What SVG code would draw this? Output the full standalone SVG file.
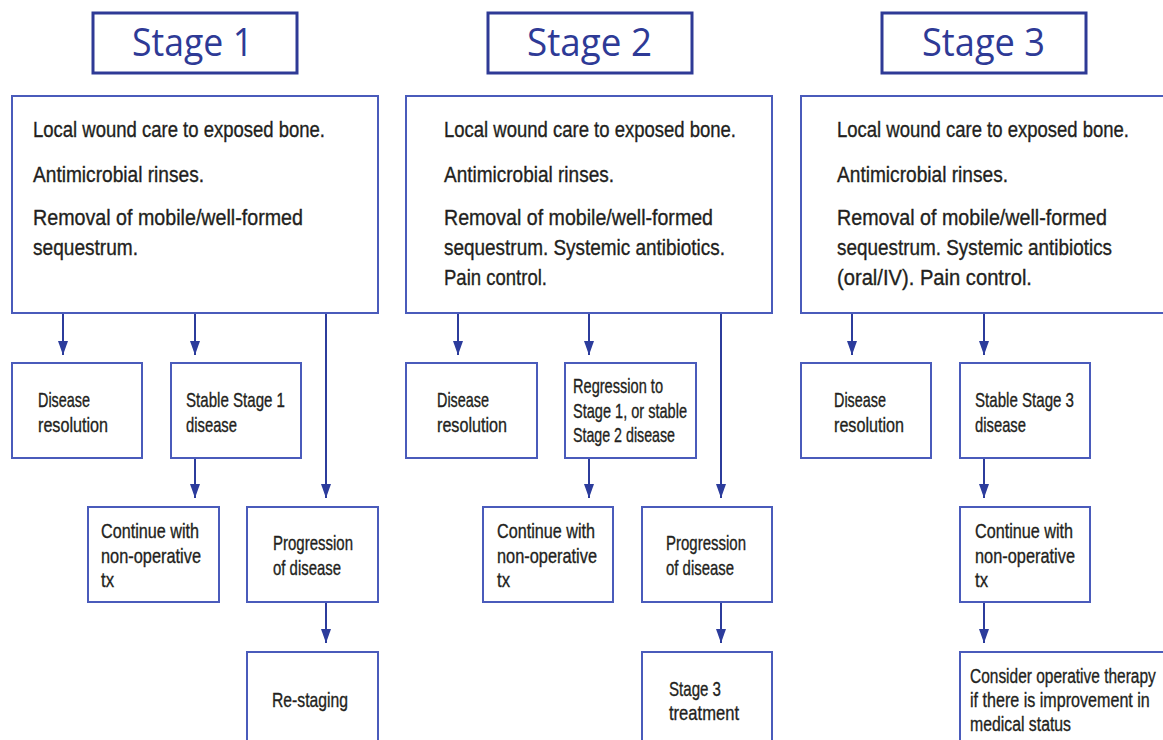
<svg xmlns="http://www.w3.org/2000/svg" width="1163" height="740" viewBox="0 0 1163 740">
<defs>
<marker id="ah" markerUnits="userSpaceOnUse" markerWidth="16" markerHeight="12" viewBox="0 0 16 12" refX="15" refY="6" orient="auto">
<path d="M1,1 L15,6 L1,11 Z" fill="#2c3c9c"/>
</marker>
<style>
.title{fill:#fff;stroke:#2e3a96;stroke-width:3}
.ttl{font-family:"Open Sans","Liberation Sans",sans-serif;font-size:39px;fill:#2e3a96}
.box{fill:#fff;stroke:#4a5bbb;stroke-width:2}
.t{font-family:"Liberation Sans",Arial,sans-serif;font-size:22px;fill:#231f20;stroke:#231f20;stroke-width:0.35}
.s{font-family:"Liberation Sans",Arial,sans-serif;font-size:21px;fill:#231f20;stroke:#231f20;stroke-width:0.35}
.c{stroke:#2c3c9c;stroke-width:2;fill:none}
</style>
</defs>
<rect width="1163" height="740" fill="#fff"/>

<g id="connectors">
<line class="c" x1="63" y1="313" x2="63" y2="355" marker-end="url(#ah)"/>
<line class="c" x1="195" y1="313" x2="195" y2="355" marker-end="url(#ah)"/>
<line class="c" x1="326" y1="313" x2="326" y2="498" marker-end="url(#ah)"/>
<line class="c" x1="195" y1="458" x2="195" y2="498" marker-end="url(#ah)"/>
<line class="c" x1="326" y1="602" x2="326" y2="643" marker-end="url(#ah)"/>

<line class="c" x1="458" y1="313" x2="458" y2="355" marker-end="url(#ah)"/>
<line class="c" x1="589" y1="313" x2="589" y2="355" marker-end="url(#ah)"/>
<line class="c" x1="721" y1="313" x2="721" y2="498" marker-end="url(#ah)"/>
<line class="c" x1="589" y1="458" x2="589" y2="498" marker-end="url(#ah)"/>
<line class="c" x1="721" y1="602" x2="721" y2="643" marker-end="url(#ah)"/>

<line class="c" x1="852" y1="313" x2="852" y2="355" marker-end="url(#ah)"/>
<line class="c" x1="984" y1="313" x2="984" y2="355" marker-end="url(#ah)"/>
<line class="c" x1="984" y1="458" x2="984" y2="498" marker-end="url(#ah)"/>
<line class="c" x1="984" y1="602" x2="984" y2="643" marker-end="url(#ah)"/>
</g>

<g id="stage1-title">
<rect class="title" x="93" y="13" width="204" height="60"/>
<text class="ttl" x="132" y="56" textLength="121" lengthAdjust="spacingAndGlyphs">Stage 1</text>
</g>
<g id="stage2-title">
<rect class="title" x="488" y="13" width="204" height="60"/>
<text class="ttl" x="527" y="56" textLength="125" lengthAdjust="spacingAndGlyphs">Stage 2</text>
</g>
<g id="stage3-title">
<rect class="title" x="882" y="13" width="204" height="60"/>
<text class="ttl" x="922" y="56" textLength="123" lengthAdjust="spacingAndGlyphs">Stage 3</text>
</g>

<g id="stage1-main">
<rect class="box" x="12" y="96" width="366" height="217"/>
<text class="t" x="33" y="137" textLength="292" lengthAdjust="spacingAndGlyphs">Local wound care to exposed bone.</text>
<text class="t" x="33" y="182" textLength="171" lengthAdjust="spacingAndGlyphs">Antimicrobial rinses.</text>
<text class="t" x="33" y="225" textLength="270" lengthAdjust="spacingAndGlyphs">Removal of mobile/well-formed</text>
<text class="t" x="33" y="255" textLength="105" lengthAdjust="spacingAndGlyphs">sequestrum.</text>
</g>
<g id="stage2-main">
<rect class="box" x="406" y="96" width="366" height="217"/>
<text class="t" x="444" y="137" textLength="292" lengthAdjust="spacingAndGlyphs">Local wound care to exposed bone.</text>
<text class="t" x="444" y="182" textLength="170" lengthAdjust="spacingAndGlyphs">Antimicrobial rinses.</text>
<text class="t" x="444" y="225" textLength="269" lengthAdjust="spacingAndGlyphs">Removal of mobile/well-formed</text>
<text class="t" x="444" y="255" textLength="281" lengthAdjust="spacingAndGlyphs">sequestrum. Systemic antibiotics.</text>
<text class="t" x="444" y="285" textLength="103" lengthAdjust="spacingAndGlyphs">Pain control.</text>
</g>
<g id="stage3-main">
<rect class="box" x="801" y="96" width="380" height="217"/>
<text class="t" transform="translate(837,137) scale(0.84,1)" textLength="347.6" lengthAdjust="spacingAndGlyphs">Local wound care to exposed bone.</text>
<text class="t" transform="translate(837,182) scale(0.84,1)" textLength="203.6" lengthAdjust="spacingAndGlyphs">Antimicrobial rinses.</text>
<text class="t" transform="translate(837,225) scale(0.84,1)" textLength="321.4" lengthAdjust="spacingAndGlyphs">Removal of mobile/well-formed</text>
<text class="t" transform="translate(837,255) scale(0.84,1)" textLength="327.4" lengthAdjust="spacingAndGlyphs">sequestrum. Systemic antibiotics</text>
<text class="t" transform="translate(837,285) scale(0.84,1)" textLength="232.1" lengthAdjust="spacingAndGlyphs">(oral/IV). Pain control.</text>
</g>

<g id="s1-resolution">
<rect class="box" x="12" y="363" width="130" height="95"/>
<text class="s" x="38" y="407" textLength="52" lengthAdjust="spacingAndGlyphs">Disease</text>
<text class="s" x="38" y="432" textLength="70" lengthAdjust="spacingAndGlyphs">resolution</text>
</g>
<g id="s1-stable">
<rect class="box" x="171" y="363" width="130" height="95"/>
<text class="s" x="186" y="407" textLength="99" lengthAdjust="spacingAndGlyphs">Stable Stage 1</text>
<text class="s" x="186" y="432" textLength="51" lengthAdjust="spacingAndGlyphs">disease</text>
</g>
<g id="s1-continue">
<rect class="box" x="88" y="507" width="131" height="95"/>
<text class="s" x="101" y="538" textLength="98" lengthAdjust="spacingAndGlyphs">Continue with</text>
<text class="s" x="101" y="563" textLength="100" lengthAdjust="spacingAndGlyphs">non-operative</text>
<text class="s" x="101" y="587" textLength="13" lengthAdjust="spacingAndGlyphs">tx</text>
</g>
<g id="s1-progression">
<rect class="box" x="247" y="507" width="131" height="95"/>
<text class="s" x="273" y="550" textLength="80" lengthAdjust="spacingAndGlyphs">Progression</text>
<text class="s" x="273" y="575" textLength="68" lengthAdjust="spacingAndGlyphs">of disease</text>
</g>
<g id="s1-restaging">
<rect class="box" x="247" y="652" width="131" height="100"/>
<text class="s" x="272" y="707" textLength="76" lengthAdjust="spacingAndGlyphs">Re-staging</text>
</g>

<g id="s2-resolution">
<rect class="box" x="406" y="363" width="131" height="95"/>
<text class="s" x="437" y="407" textLength="52" lengthAdjust="spacingAndGlyphs">Disease</text>
<text class="s" x="437" y="432" textLength="70" lengthAdjust="spacingAndGlyphs">resolution</text>
</g>
<g id="s2-regression">
<rect class="box" x="565" y="363" width="131" height="95"/>
<text class="s" x="573" y="393" textLength="90" lengthAdjust="spacingAndGlyphs">Regression to</text>
<text class="s" x="573" y="418" textLength="114" lengthAdjust="spacingAndGlyphs">Stage 1, or stable</text>
<text class="s" x="573" y="442" textLength="102" lengthAdjust="spacingAndGlyphs">Stage 2 disease</text>
</g>
<g id="s2-continue">
<rect class="box" x="483" y="507" width="130" height="95"/>
<text class="s" x="497" y="538" textLength="98" lengthAdjust="spacingAndGlyphs">Continue with</text>
<text class="s" x="497" y="563" textLength="100" lengthAdjust="spacingAndGlyphs">non-operative</text>
<text class="s" x="497" y="587" textLength="13" lengthAdjust="spacingAndGlyphs">tx</text>
</g>
<g id="s2-progression">
<rect class="box" x="642" y="507" width="130" height="95"/>
<text class="s" x="666" y="550" textLength="80" lengthAdjust="spacingAndGlyphs">Progression</text>
<text class="s" x="666" y="575" textLength="68" lengthAdjust="spacingAndGlyphs">of disease</text>
</g>
<g id="s2-stage3">
<rect class="box" x="642" y="652" width="130" height="100"/>
<text class="s" x="669" y="696" textLength="52" lengthAdjust="spacingAndGlyphs">Stage 3</text>
<text class="s" x="669" y="720" textLength="70" lengthAdjust="spacingAndGlyphs">treatment</text>
</g>

<g id="s3-resolution">
<rect class="box" x="801" y="363" width="130" height="95"/>
<text class="s" x="834" y="407" textLength="52" lengthAdjust="spacingAndGlyphs">Disease</text>
<text class="s" x="834" y="432" textLength="70" lengthAdjust="spacingAndGlyphs">resolution</text>
</g>
<g id="s3-stable">
<rect class="box" x="960" y="363" width="130" height="95"/>
<text class="s" x="975" y="407" textLength="99" lengthAdjust="spacingAndGlyphs">Stable Stage 3</text>
<text class="s" x="975" y="432" textLength="51" lengthAdjust="spacingAndGlyphs">disease</text>
</g>
<g id="s3-continue">
<rect class="box" x="960" y="507" width="130" height="95"/>
<text class="s" x="975" y="538" textLength="98" lengthAdjust="spacingAndGlyphs">Continue with</text>
<text class="s" x="975" y="563" textLength="100" lengthAdjust="spacingAndGlyphs">non-operative</text>
<text class="s" x="975" y="587" textLength="13" lengthAdjust="spacingAndGlyphs">tx</text>
</g>
<g id="s3-consider">
<rect class="box" x="960" y="652" width="220" height="100"/>
<text class="s" transform="translate(970,683) scale(0.74,1)" textLength="251" lengthAdjust="spacingAndGlyphs">Consider operative therapy</text>
<text class="s" transform="translate(970,707) scale(0.74,1)" textLength="243" lengthAdjust="spacingAndGlyphs">if there is improvement in</text>
<text class="s" transform="translate(970,731) scale(0.74,1)" textLength="136.5" lengthAdjust="spacingAndGlyphs">medical status</text>
</g>
</svg>
